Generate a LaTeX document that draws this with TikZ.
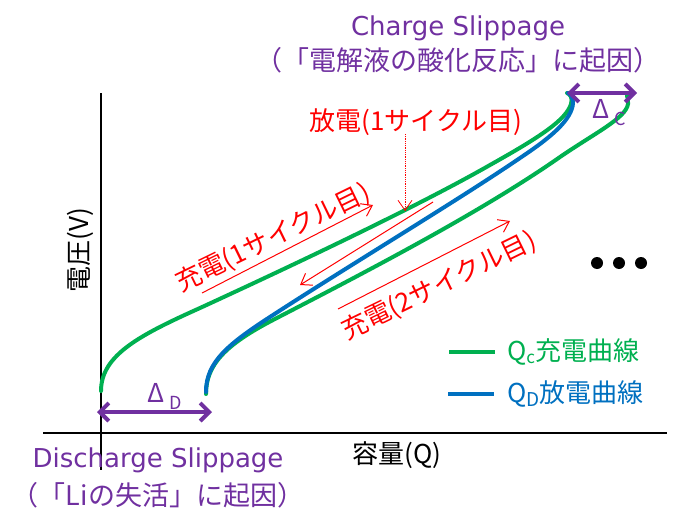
\documentclass[tikz,border=0pt]{standalone}
\usepackage{fontspec}
\setmainfont{Noto Sans CJK JP}
\newfontfamily\latinfont{DejaVu Sans}
\usetikzlibrary{arrows.meta}

\definecolor{cgreen}{RGB}{0,176,80}
\definecolor{cblue}{RGB}{0,112,192}
\definecolor{cpurple}{RGB}{112,48,160}

\tikzset{
  lbl/.style={font=\fontsize{26}{30}\selectfont, inner sep=0pt},
  redlbl/.style={lbl, text=red},
  sliplbl/.style={lbl, text=cpurple},
  curve/.style={line width=4pt, line cap=round},
  shiftarrow/.style={cpurple, line width=4pt,
    {Straight Barb[length=9pt,width=18pt]}-{Straight Barb[length=9pt,width=18pt]}},
  cyclearrow/.style={red, line width=1pt, -{Straight Barb[length=10pt,width=14pt]}}
}

\begin{document}
\begin{tikzpicture}[x=1pt,y=-1pt]
\useasboundingbox (0,0) rectangle (693,530);

% axes
\coordinate (ytop) at (101,93);
\coordinate (ybot) at (101,470);
\coordinate (xleft) at (43,433);
\coordinate (xright) at (667,433);
\draw[line width=1.3pt] (ytop) -- (ybot);
\draw[line width=1.3pt] (xleft) -- (xright);
\node[lbl, rotate=90] (ylab) at (80,250) {電圧(V)};
\node[lbl] (xlab) at (397,455) {容量(Q)};

% charge / discharge curves
\draw[curve, cgreen] (101,391) .. controls (101,355) and (140,335) .. (200,308)
  .. controls (300,262) and (420,205) .. (490,165)
  .. controls (540,137) and (566,120) .. (571,104)
  .. controls (573,98) and (570,94) .. (567,93);
\draw[curve, cgreen] (206,394) .. controls (206,365) and (225,345) .. (273,320)
  .. controls (360,275) and (480,213) .. (560,157)
  .. controls (595,133) and (626,118) .. (628,104)
  .. controls (628,100) and (628,97) .. (627,96);
\draw[curve, cblue] (206,392) .. controls (206,362) and (228,344) .. (273,315)
  .. controls (350,265) and (460,199) .. (520,158)
  .. controls (550,138) and (572,120) .. (573,103)
  .. controls (573,98) and (571,94) .. (568,93);

% slippage arrows
\coordinate (cL) at (567,93);
\coordinate (cR) at (637,93);
\draw[shiftarrow] (cL) -- (cR);
\node[sliplbl, anchor=base west] (dc) at (592,118)
  {Δ\kern5pt\raisebox{-7pt}{\fontsize{18}{18}\selectfont C}};
\coordinate (dL) at (97,412);
\coordinate (dR) at (212,412);
\draw[shiftarrow] (dL) -- (dR);
\node[sliplbl, anchor=base west] (dd) at (147,402)
  {Δ\kern5pt\raisebox{-7pt}{\fontsize{18}{18}\selectfont D}};

\node[sliplbl, anchor=base] (cslip) at (458,35) {\latinfont Charge Slippage};
\node[sliplbl, font=\fontsize{27}{30}\selectfont] (ccause) at (458,60)
  {（「電解液の酸化反応」に起因）};
\node[sliplbl, anchor=base] (dslip) at (158,467) {\latinfont Discharge Slippage};
\node[sliplbl, font=\fontsize{27}{30}\selectfont] (dcause) at (158,495)
  {（「Liの失活」に起因）};

% cycle labels
\node[redlbl] (dis1) at (416,122) {放電(1サイクル目)};
\coordinate (dotS) at (405,134);
\coordinate (dotE) at (405,211);
\draw[cyclearrow, line width=0.8pt, densely dotted] (dotS) -- (dotE);

\node[redlbl, rotate=26] (chg1) at (273,238) {充電(1サイクル目)};
\coordinate (c1S) at (202,293);
\coordinate (c1E) at (373,205);
\draw[cyclearrow] (c1S) -- (c1E);

\coordinate (d1S) at (433,202);
\coordinate (d1E) at (300,285);
\draw[cyclearrow] (d1S) -- (d1E);

\node[redlbl, rotate=26] (chg2) at (439,286) {充電(2サイクル目)};
\coordinate (c2S) at (338,309);
\coordinate (c2E) at (510,221);
\draw[cyclearrow] (c2S) -- (c2E);

% more cycles
\foreach \x in {597,619,641}
  \fill (\x,263) circle (6pt);

% legend
\draw[cgreen, line width=4pt] (449,352) -- (495,352);
\node[lbl, anchor=west, text=cgreen] (legc) at (507,352)
  {Q\raisebox{-3pt}{\fontsize{17}{17}\selectfont c}充電曲線};
\draw[cblue, line width=4pt] (448,394) -- (494,394);
\node[lbl, anchor=west, text=cblue] (legd) at (507,394)
  {Q\raisebox{-4pt}{\fontsize{19}{19}\selectfont D}放電曲線};
\end{tikzpicture}
\end{document}
